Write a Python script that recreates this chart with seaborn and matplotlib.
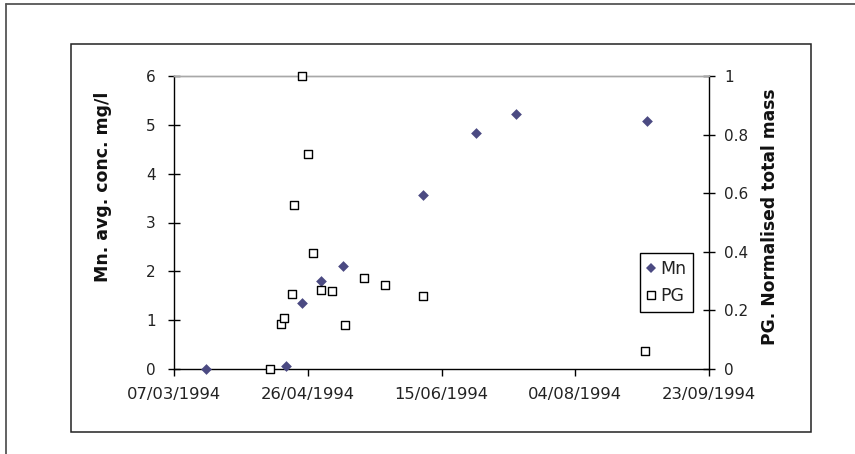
import matplotlib
matplotlib.use("Agg")
import matplotlib.pyplot as plt
import matplotlib.dates as mdates
from matplotlib.lines import Line2D
from matplotlib.patches import Rectangle
import seaborn as sns
import pandas as pd

# ---- data ----
mn_dates = ["1994-03-19", "1994-04-18", "1994-04-24", "1994-05-01", "1994-05-09",
            "1994-06-08", "1994-06-28", "1994-07-13", "1994-08-31"]
mn_values = [0.0, 0.06, 1.35, 1.80, 2.11, 3.56, 4.83, 5.22, 5.08]

pg_dates = ["1994-04-12", "1994-04-16", "1994-04-17", "1994-04-20", "1994-04-21",
            "1994-04-24", "1994-04-26", "1994-04-28", "1994-05-01", "1994-05-05",
            "1994-05-10", "1994-05-17", "1994-05-25", "1994-06-08", "1994-08-30"]
pg_values = [0.0, 0.155, 0.175, 0.255, 0.56, 1.0, 0.735, 0.395, 0.27, 0.265,
             0.15, 0.31, 0.285, 0.25, 0.06]

x_ticks = ["1994-03-07", "1994-04-26", "1994-06-15", "1994-08-04", "1994-09-23"]
left_ticks = [0, 1, 2, 3, 4, 5, 6]
right_ticks = [0, 0.2, 0.4, 0.6, 0.8, 1]

left_label = "Mn. avg. conc. mg/l"
right_label = "PG. Normalised total mass"

mn_color = "#4B4A82"

sns.set_style("white")
plt.rcParams["font.family"] = ["DejaVu Sans"]

W, H = 855, 454
fig = plt.figure(figsize=(W / 100, H / 100), dpi=100)
fig.patch.set_facecolor("white")

# plot area in pixels
L, R, T, B = 174, 709, 76, 369
ax = fig.add_axes([L / W, 1 - B / H, (R - L) / W, (B - T) / H])
ax2 = ax.twinx()

mn_df = pd.DataFrame({"date": pd.to_datetime(mn_dates), "value": mn_values})
pg_df = pd.DataFrame({"date": pd.to_datetime(pg_dates), "value": pg_values})

sns.scatterplot(data=mn_df, x="date", y="value", ax=ax, marker="D", s=30,
                color=mn_color, linewidth=0, clip_on=False, zorder=3)
sns.scatterplot(data=pg_df, x="date", y="value", ax=ax2, marker="s", s=28,
                facecolor="white", edgecolor="black", linewidth=1.0,
                clip_on=False, zorder=3)

xt = pd.to_datetime(x_ticks)
for a in (ax, ax2):
    a.set_xlim(xt[0], xt[-1])
ax.set_xticks(xt)
ax.xaxis.set_major_formatter(mdates.DateFormatter("%d/%m/%Y"))

ax.set_ylim(0, 6)
ax.set_yticks(left_ticks)
ax.set_yticklabels([str(v) for v in left_ticks])
ax2.set_ylim(0, 1)
ax2.set_yticks(right_ticks)
ax2.set_yticklabels([("%g" % v) for v in right_ticks])

ax.set_xlabel("")
ax.set_ylabel("")
ax2.set_xlabel("")
ax2.set_ylabel("")

tick_fs = 11
ax.tick_params(axis="y", direction="inout", length=8, width=1, colors="black",
               labelsize=tick_fs, pad=9, left=True)
ax.tick_params(axis="x", direction="out", length=5, width=1, colors="black",
               labelsize=11.8, pad=8, bottom=True)
ax2.tick_params(axis="y", direction="inout", length=8, width=1, colors="black",
                labelsize=tick_fs, pad=7, right=True)
for lab in ax.get_xticklabels() + ax.get_yticklabels() + ax2.get_yticklabels():
    lab.set_color("#222222")

for a in (ax, ax2):
    for s in ("left", "right", "bottom"):
        a.spines[s].set_color("black")
        a.spines[s].set_linewidth(1)
    a.spines["top"].set_color("#a8a8a8")
    a.spines["top"].set_linewidth(1)
    a.grid(False)
ax.spines["right"].set_visible(False)
ax2.spines["left"].set_visible(False)
ax2.spines["bottom"].set_visible(False)

# axis titles
fig.text(103 / W, 1 - 187 / H, left_label, rotation=90, ha="center", va="center",
         fontsize=12.5, fontweight="bold", color="#111111")
fig.text(770 / W, 1 - 217 / H, right_label, rotation=90, ha="center", va="center",
         fontsize=12.3, fontweight="bold", color="#111111")

# legend
handles = [
    Line2D([], [], marker="D", linestyle="none", markersize=5.3, color=mn_color,
           markeredgewidth=0),
    Line2D([], [], marker="s", linestyle="none", markersize=5.5,
           markerfacecolor="white", markeredgecolor="black", markeredgewidth=1.0),
]
leg = ax2.legend(handles, ["Mn", "PG"], loc="upper left",
                 bbox_to_anchor=(640 / W, 1 - 253 / H), bbox_transform=fig.transFigure,
                 frameon=True, fancybox=False, framealpha=1, edgecolor="black",
                 fontsize=12.5, handlelength=0.5, handletextpad=0.25,
                 borderpad=0.4, labelspacing=0.55, borderaxespad=0)
leg.get_frame().set_linewidth(1)
for t in leg.get_texts():
    t.set_color("#222222")

# chart frame and outer frame
fig.patches.append(Rectangle((71 / W, 1 - 432 / H), (811 - 71) / W, (432 - 44) / H,
                             transform=fig.transFigure, fill=False,
                             edgecolor="#222222", linewidth=1.1))
fig.lines.append(Line2D([6 / W, 6 / W], [0, 1 - 4 / H], transform=fig.transFigure,
                        color="#555555", linewidth=1.3))
fig.lines.append(Line2D([6 / W, 1], [1 - 4 / H, 1 - 4 / H], transform=fig.transFigure,
                        color="#555555", linewidth=1.3))

fig.savefig("out.png", dpi=100, facecolor="white")
